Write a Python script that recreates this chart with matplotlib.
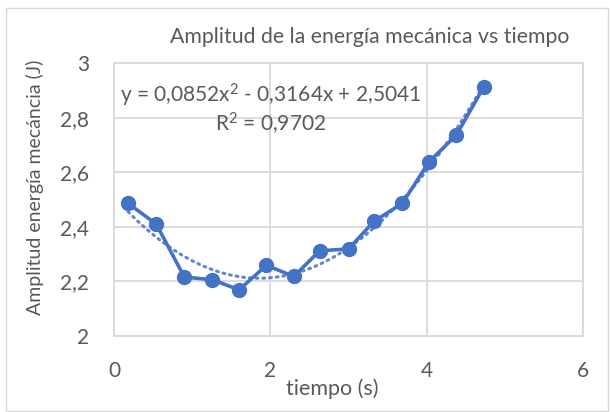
import numpy as np
import matplotlib
matplotlib.use("Agg")
import matplotlib.pyplot as plt
from matplotlib.patches import Rectangle

# ---- data ----
tiempo = [0.18, 0.54, 0.90, 1.26, 1.60, 1.95, 2.30, 2.63, 3.00, 3.33, 3.69, 4.03, 4.38, 4.73]
amplitud = [2.486, 2.410, 2.216, 2.206, 2.169, 2.259, 2.218, 2.312, 2.319, 2.421, 2.486, 2.638, 2.736, 2.912]
x_ticks = [0, 2, 4, 6]
x_tick_labels = ["0", "2", "4", "6"]
y_ticks = [2.0, 2.2, 2.4, 2.6, 2.8, 3.0]
y_tick_labels = ["2", "2,2", "2,4", "2,6", "2,8", "3"]
title = "Amplitud de la energía mecánica vs tiempo"
x_label = "tiempo (s)"
y_label = "Amplitud energía mecáncia (J)"
eq_text = "y = 0,0852x$^{2}$ - 0,3164x + 2,5041"
r2_text = "R$^{2}$ = 0,9702"

plt.rcParams['font.family'] = ['Lato', 'DejaVu Sans']
plt.rcParams['mathtext.fontset'] = 'custom'
plt.rcParams['mathtext.rm'] = 'Lato'
plt.rcParams['mathtext.default'] = 'rm'

W, H = 610, 412
fig = plt.figure(figsize=(W / 100, H / 100), dpi=100)
fig.patch.set_facecolor("white")

def fx(px):
    return px / W

def fy(py):
    return 1 - py / H

# chart-area border
fig.patches.append(Rectangle((fx(6), fy(411)), fx(602), (411 - 8) / H,
                             transform=fig.transFigure, fill=False,
                             edgecolor="#D9D9D9", linewidth=1.0))

ax_l, ax_r, ax_t, ax_b = 114, 583, 63, 336
ax = fig.add_axes([fx(ax_l), fy(ax_b), (ax_r - ax_l) / W, (ax_b - ax_t) / H])
ax.set_xlim(0, 6)
ax.set_ylim(2, 3)

grid_c = "#D9D9D9"
text_c = "#595959"
blue = "#4472C4"

ax.set_xticks(x_ticks)
ax.set_xticklabels(x_tick_labels)
ax.set_yticks(y_ticks)
ax.set_yticklabels(y_tick_labels)
ax.grid(True, color=grid_c, linewidth=1.3)
ax.set_axisbelow(True)
for s in ax.spines.values():
    s.set_color(grid_c)
    s.set_linewidth(1.3)
ax.tick_params(axis="both", length=0, colors=text_c, labelsize=15)
ax.tick_params(axis="x", pad=18)
ax.tick_params(axis="y", pad=18)

# data line
ax.plot(tiempo, amplitud, color=blue, linewidth=2.6, marker="o",
        markersize=10, markerfacecolor=blue, markeredgecolor=blue,
        zorder=3, clip_on=False)

# polynomial trendline (order 2), fitted from the data
coef = np.polyfit(tiempo, amplitud, 2)
xs = np.linspace(min(tiempo), max(tiempo), 200)
ax.plot(xs, np.polyval(coef, xs), color=blue, linewidth=2.2,
        linestyle=(0, (0.6, 1.6)), dash_capstyle="round", alpha=0.85, zorder=2)

# texts
fig.text(fx(370), fy(37), title, color=text_c, fontsize=15.3,
         ha="center", va="center")
fig.text(fx(332), fy(389), x_label, color=text_c, fontsize=15.5,
         ha="center", va="center")
fig.text(fx(35), fy(187), y_label, color=text_c, fontsize=14,
         ha="center", va="center", rotation=90)
fig.text(fx(271), fy(95), eq_text, color=text_c, fontsize=15,
         ha="center", va="center")
fig.text(fx(271), fy(124), r2_text, color=text_c, fontsize=15,
         ha="center", va="center")

fig.savefig("out.png", dpi=100, facecolor="white")
